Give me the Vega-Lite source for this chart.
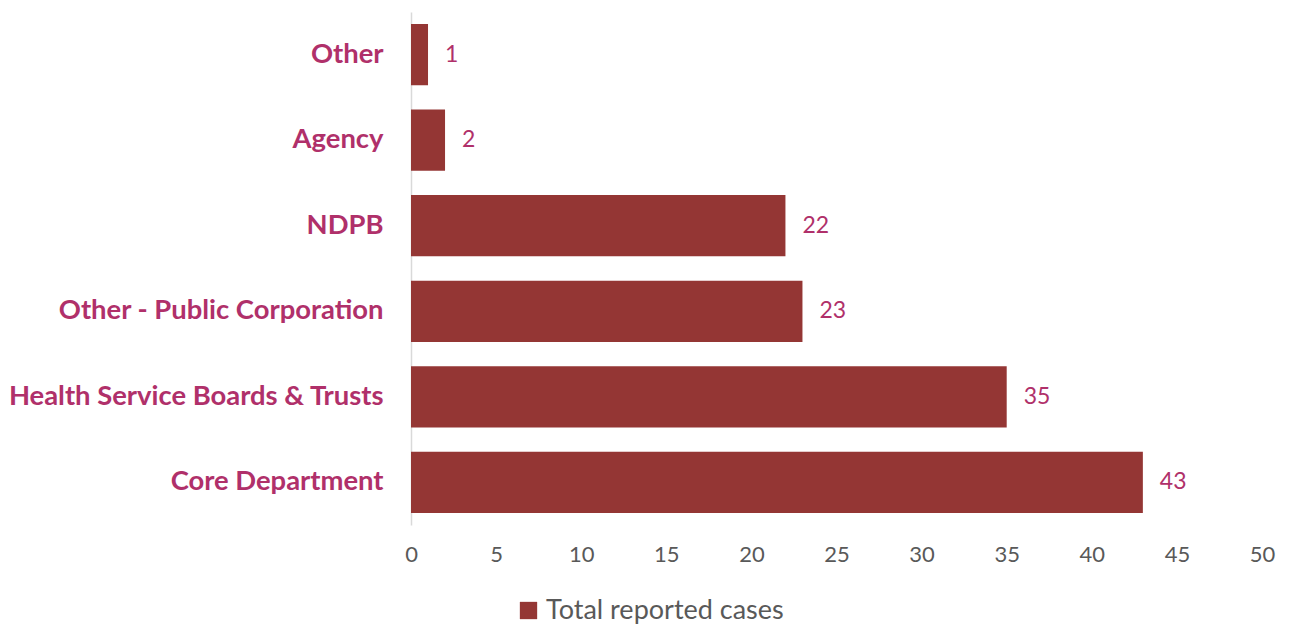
{
  "$schema": "https://vega.github.io/schema/vega-lite/v6.json",
  "autosize": "none",
  "width": 851,
  "height": 513,
  "padding": {"left": 411, "top": 12, "right": 29, "bottom": 103},
  "background": "white",
  "data": {"values": [
    {"category": "Other", "cases": 1, "series": "Total reported cases"},
    {"category": "Agency", "cases": 2, "series": "Total reported cases"},
    {"category": "NDPB", "cases": 22, "series": "Total reported cases"},
    {"category": "Other - Public Corporation", "cases": 23, "series": "Total reported cases"},
    {"category": "Health Service Boards & Trusts", "cases": 35, "series": "Total reported cases"},
    {"category": "Core Department", "cases": 43, "series": "Total reported cases"}
  ]},
  "config": {"view": {"stroke": null}, "font": "Lato"},
  "encoding": {
    "y": {"field": "category", "type": "nominal", "sort": null,
      "scale": {"paddingInner": 0.285, "paddingOuter": 0.14},
      "axis": {"title": null, "ticks": false, "domainColor": "#d9d9d9", "domainWidth": 1.5,
        "labelFont": "Lato", "labelFontWeight": "bold", "labelFontSize": 27.4, "labelColor": "#B0306A",
        "labelPadding": 28, "labelLimit": 450}},
    "x": {"field": "cases", "type": "quantitative",
      "scale": {"domain": [0, 50]},
      "axis": {"title": null, "grid": false, "domain": false, "ticks": false, "values": [0,5,10,15,20,25,30,35,40,45,50],
        "labelFlush": false,
        "labelFont": "Lato", "labelFontSize": 22, "labelColor": "#595959", "labelPadding": 19}}
  },
  "layer": [
    {"mark": {"type": "bar"},
     "encoding": {"color": {"field": "series", "type": "nominal",
       "scale": {"range": ["#943634"]},
       "legend": {"title": null, "orient": "none", "legendX": 104, "legendY": 585, "symbolType": "square", "symbolSize": 300,
         "labelFont": "Lato", "labelFontSize": 27, "labelLimit": 400, "labelColor": "#595959", "symbolStrokeWidth": 0, "labelOffset": 4}}}},
    {"mark": {"type": "text", "align": "left", "dx": 17, "fontSize": 23, "color": "#B0306A", "font": "Lato"},
     "encoding": {"text": {"field": "cases", "type": "quantitative"}}}
  ]
}
